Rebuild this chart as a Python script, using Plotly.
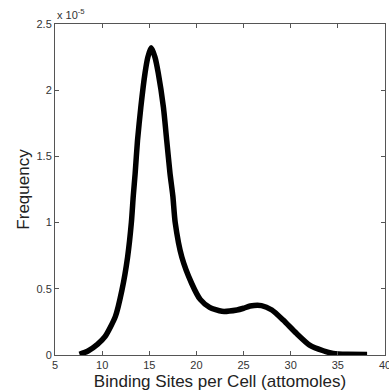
import plotly.graph_objects as go

# Smoothed distribution of binding sites per cell
sites = [7.6, 8.5, 9.5, 10.3, 11.4, 12.1, 12.7, 13.1, 13.3, 13.5, 13.75, 14.1,
         14.55, 14.85, 15.2, 15.6, 15.95, 16.5, 16.85, 17.2, 17.5, 17.75, 18.45,
         19.5, 20.4, 21.4, 22.7, 24.3, 25.0, 25.7, 26.9, 28.0, 29.2, 30.6, 32.0,
         33.45, 34.5, 36.0, 38.1]
# frequency, in units of 1e-5
freq_e5 = [0.005, 0.03, 0.08, 0.138, 0.29, 0.49, 0.74, 1.0, 1.2, 1.37, 1.62, 1.87,
           2.13, 2.25, 2.32, 2.25, 2.13, 1.87, 1.62, 1.37, 1.2, 1.0, 0.74,
           0.54, 0.42, 0.36, 0.33, 0.34, 0.353, 0.37, 0.373, 0.34, 0.264, 0.164, 0.075,
           0.032, 0.012, 0.005, 0.004]

x_ticks = [5, 10, 15, 20, 25, 30, 35, 40]
y_ticks = [0, 0.5, 1, 1.5, 2, 2.5]
y_tick_text = ["0", "0.5", "1", "1.5", "2", "2.5"]

fig = go.Figure(go.Scatter(
    x=sites, y=freq_e5, mode="lines",
    line=dict(color="black", width=5.5, shape="spline", smoothing=0.6),
    hoverinfo="skip",
))

axis_common = dict(
    showline=True, linecolor="#555", linewidth=1, mirror="ticks",
    ticks="inside", ticklen=4, tickcolor="#555", tickwidth=1,
    showgrid=False, zeroline=False, ticklabeloverflow="allow", automargin=False,
    tickfont=dict(family="Liberation Sans, Arial, sans-serif", size=11, color="#333"),
)

fig.update_layout(
    width=389, height=392,
    margin=dict(l=55, r=4, t=24, b=37),
    paper_bgcolor="white", plot_bgcolor="white",
    showlegend=False,
    font=dict(family="Liberation Sans, Arial, sans-serif", color="#222"),
    xaxis=dict(range=[5, 40], tickvals=x_ticks, **axis_common,
               title=dict(text="Binding Sites per Cell (attomoles)",
                          font=dict(size=17, color="#222"), standoff=4)),
    yaxis=dict(range=[0, 2.5], tickvals=y_ticks, ticktext=y_tick_text, **axis_common,
               title=dict(text="Frequency", font=dict(size=17, color="#222"), standoff=2)),
    annotations=[dict(
        text="x 10<sup>-5</sup>", xref="paper", yref="paper", x=0, y=1,
        xanchor="left", yanchor="bottom", showarrow=False, yshift=1,
        font=dict(family="Liberation Sans, Arial, sans-serif", size=11, color="#333"),
    )],
)

fig.write_html("out.html")
